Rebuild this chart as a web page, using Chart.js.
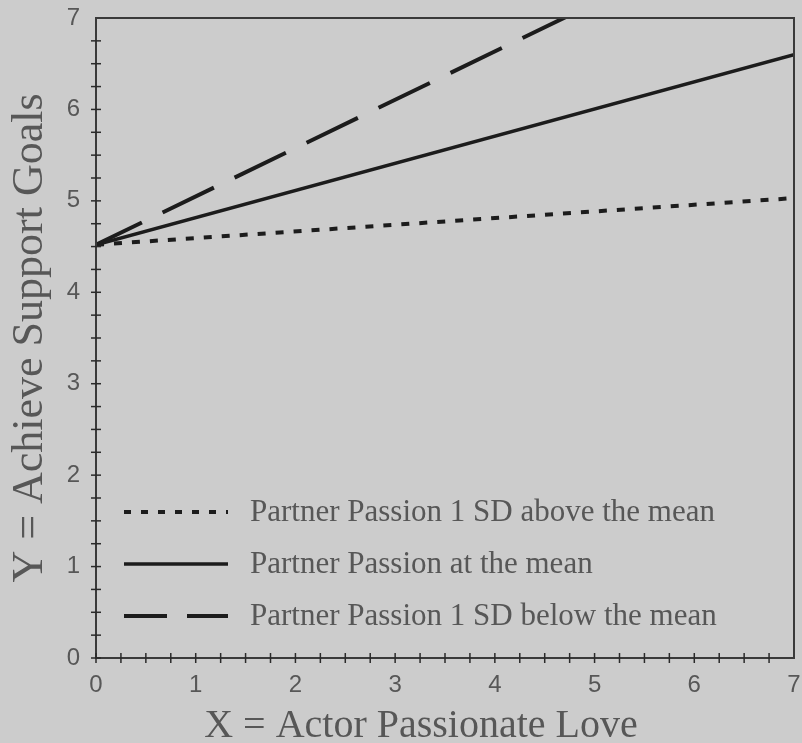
<!DOCTYPE html>
<html>
<head>
<meta charset="utf-8">
<script src="https://cdn.jsdelivr.net/npm/chart.js@4"></script>
<style>
  body { margin: 0; background: #cccccc; }
  canvas { display: block; }
</style>
</head>
<body>
<canvas id="chart" width="802" height="743"></canvas>
<script>
// simple slopes
var xValues = [0, 7];
var aboveMean = [4.52, 5.03];
var atMean = [4.52, 6.6];
var belowMean = [4.52, 8.22];
var seriesLabels = [
  'Partner Passion 1 SD above the mean',
  'Partner Passion at the mean',
  'Partner Passion 1 SD below the mean'
];
var tickValues = [0, 1, 2, 3, 4, 5, 6, 7];
var xTitle = 'X = Actor Passionate Love';
var yTitle = 'Y = Achieve Support Goals';

function toPoints(ys) {
  return xValues.map(function (x, i) {
    return { x: x, y: ys[i] };
  });
}

var lineColor = '#1c1c1c';
var textColor = '#575757';

// frame, minor ticks crossing the axes, titles and legend
var decorPlugin = {
  id: 'decor',
  beforeDraw: function (chart) {
    var ctx = chart.ctx;
    ctx.save();
    ctx.fillStyle = '#cccccc';
    ctx.fillRect(0, 0, chart.width, chart.height);
    ctx.restore();
  },
  afterDatasetsDraw: function (chart) {
    var ctx = chart.ctx;
    var area = chart.chartArea;
    var xs = chart.scales.x;
    var ys = chart.scales.y;
    ctx.save();
    ctx.strokeStyle = '#3a3a3a';
    ctx.lineWidth = 2;
    ctx.strokeRect(area.left, area.top, area.right - area.left, area.bottom - area.top);

    ctx.strokeStyle = '#2a2a2a';
    ctx.lineWidth = 1.5;
    for (var v = 0; v < 7; v += 0.25) {
      var px = xs.getPixelForValue(v);
      ctx.beginPath();
      ctx.moveTo(px, area.bottom - 5);
      ctx.lineTo(px, area.bottom + 5);
      ctx.stroke();
      var py = ys.getPixelForValue(v);
      ctx.beginPath();
      ctx.moveTo(area.left - 5, py);
      ctx.lineTo(area.left + 5, py);
      ctx.stroke();
    }

    // axis titles
    ctx.fillStyle = textColor;
    ctx.font = '40px "Liberation Serif", serif';
    ctx.textAlign = 'center';
    ctx.textBaseline = 'alphabetic';
    ctx.fillText(xTitle, 421, 737);
    ctx.font = '44px "Liberation Serif", serif';
    ctx.textBaseline = 'middle';
    ctx.translate(30, (area.top + area.bottom) / 2);
    ctx.rotate(-Math.PI / 2);
    ctx.fillText(yTitle, 0, 0);
    ctx.restore();

    // legend inside the plot
    ctx.save();
    var rows = [512, 564, 616];
    chart.data.datasets.forEach(function (ds, i) {
      ctx.strokeStyle = ds.borderColor;
      ctx.lineWidth = ds.borderWidth;
      ctx.setLineDash(ds.legendDash || []);
      ctx.beginPath();
      ctx.moveTo(124, rows[i]);
      ctx.lineTo(228, rows[i]);
      ctx.stroke();
      ctx.setLineDash([]);
      ctx.fillStyle = textColor;
      ctx.font = '31px "Liberation Serif", serif';
      ctx.textAlign = 'left';
      ctx.textBaseline = 'middle';
      ctx.fillText(ds.label, 250, rows[i] + 1);
    });
    ctx.restore();
  }
};

new Chart(document.getElementById('chart').getContext('2d'), {
  type: 'scatter',
  data: {
    datasets: [{
      label: seriesLabels[0],
      data: toPoints(aboveMean),
      showLine: true,
      borderColor: lineColor,
      borderWidth: 4,
      borderDash: [8, 10],
      legendDash: [7, 10],
      pointRadius: 0
    }, {
      label: seriesLabels[1],
      data: toPoints(atMean),
      showLine: true,
      borderColor: lineColor,
      borderWidth: 3.5,
      pointRadius: 0
    }, {
      label: seriesLabels[2],
      data: toPoints(belowMean),
      showLine: true,
      borderColor: lineColor,
      borderWidth: 4,
      borderDash: [57, 23],
      borderDashOffset: 6,
      legendDash: [43, 20],
      pointRadius: 0
    }]
  },
  options: {
    responsive: false,
    animation: false,
    layout: {
      padding: { top: 18, right: 8, left: 0, bottom: 0 }
    },
    plugins: {
      legend: { display: false },
      tooltip: { enabled: false }
    },
    scales: {
      x: {
        type: 'linear',
        min: 0,
        max: 7,
        afterFit: function (scale) {
          scale.height = 85;
          scale.paddingLeft = 0;
          scale.paddingRight = 0;
        },
        afterBuildTicks: function (scale) {
          scale.ticks = tickValues.map(function (v) { return { value: v }; });
        },
        grid: { display: false },
        border: { display: false },
        ticks: {
          color: textColor,
          padding: 5,
          maxRotation: 0,
          font: { family: '"Liberation Sans", sans-serif', size: 24 }
        }
      },
      y: {
        type: 'linear',
        min: 0,
        max: 7,
        afterFit: function (scale) {
          scale.width = 96;
          scale.paddingTop = 0;
          scale.paddingBottom = 0;
        },
        afterBuildTicks: function (scale) {
          scale.ticks = tickValues.map(function (v) { return { value: v }; });
        },
        grid: { display: false },
        border: { display: false },
        ticks: {
          color: textColor,
          padding: 8,
          font: { family: '"Liberation Sans", sans-serif', size: 24 }
        }
      }
    }
  },
  plugins: [decorPlugin]
});
</script>
</body>
</html>
